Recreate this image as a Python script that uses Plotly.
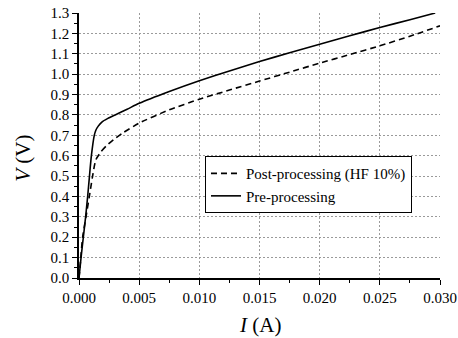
import plotly.graph_objects as go

# Current (A) / voltage (V) samples for the two I-V curves
i_pre = [0, 0.00017, 0.00036, 0.00055, 0.00072, 0.00087, 0.00103, 0.00127, 0.0014,
         0.0016, 0.0019, 0.0024, 0.003, 0.004, 0.005, 0.0075, 0.010, 0.0125, 0.015,
         0.0175, 0.020, 0.0225, 0.025, 0.0275, 0.0296]
v_pre = [0, 0.10, 0.20, 0.30, 0.40, 0.50, 0.60, 0.70, 0.725,
         0.745, 0.765, 0.783, 0.80, 0.828, 0.857, 0.915, 0.968, 1.016, 1.062,
         1.105, 1.147, 1.188, 1.229, 1.267, 1.30]

i_post = [0, 0.00015, 0.0003, 0.00058, 0.00086, 0.00113, 0.0014, 0.00183, 0.0023,
          0.0029, 0.0036, 0.005, 0.0075, 0.010, 0.0125, 0.015, 0.0175, 0.020,
          0.0225, 0.025, 0.0275, 0.030]
v_post = [0, 0.10, 0.20, 0.30, 0.40, 0.50, 0.58, 0.62, 0.65,
          0.68, 0.71, 0.76, 0.825, 0.877, 0.922, 0.966, 1.010, 1.054,
          1.096, 1.139, 1.186, 1.237]

FONT = "Liberation Serif, Times New Roman, serif"

fig = go.Figure()
fig.add_trace(go.Scatter(
    x=i_post, y=v_post, mode="lines", name="Post-processing (HF 10%)",
    line=dict(color="black", width=1.6, dash="6px,4px", shape="spline", smoothing=0.6),
))
fig.add_trace(go.Scatter(
    x=i_pre, y=v_pre, mode="lines", name="Pre-processing",
    line=dict(color="black", width=1.6, shape="spline", smoothing=0.6),
))

grid = dict(showgrid=True, gridcolor="#9a9a9a", gridwidth=1, griddash="2px,2px")
axis_common = dict(
    showline=True, linecolor="black", linewidth=1.5,
    ticks="outside", ticklen=5, tickwidth=1.2, tickcolor="black",
    zeroline=False, automargin=False,
    tickfont=dict(family=FONT, size=15, color="black"),
    **grid,
)

fig.update_xaxes(
    range=[0, 0.030], dtick=0.005, tick0=0, tickformat=".3f",
    minor=dict(dtick=0.0025, ticks="outside", ticklen=3, tickcolor="black", showgrid=False),
    **axis_common,
)
fig.update_yaxes(
    range=[0, 1.3], dtick=0.1, tick0=0, tickformat=".1f",
    minor=dict(dtick=0.05, ticks="outside", ticklen=3, tickcolor="black", showgrid=False),
    **axis_common,
)

# The frame is open on the top and right: mask the grid lines that fall on those edges
for edge in (dict(x0=0, x1=1, y0=1, y1=1), dict(x0=1, x1=1, y0=0, y1=1)):
    fig.add_shape(type="line", xref="paper", yref="paper", layer="between",
                  line=dict(color="white", width=2), **edge)

fig.add_annotation(
    text="<i>I</i> (A)", xref="paper", yref="paper", x=0.5, y=-0.124,
    xanchor="center", yanchor="top", showarrow=False,
    font=dict(family=FONT, size=21, color="black"),
)
fig.add_annotation(
    text="<i>V</i> (V)", xref="paper", yref="paper", x=-0.155, y=0.45,
    xanchor="center", yanchor="middle", textangle=-90, showarrow=False,
    font=dict(family=FONT, size=21, color="black"),
)

fig.update_layout(
    width=458, height=338,
    margin=dict(l=79, r=18, t=13, b=60),
    paper_bgcolor="white", plot_bgcolor="white",
    showlegend=True,
    legend=dict(
        x=0.349, y=0.46, xanchor="left", yanchor="top",
        bgcolor="white", bordercolor="black", borderwidth=1,
        font=dict(family=FONT, size=15, color="black"),
        tracegroupgap=0, itemwidth=30,
    ),
)

fig.write_html("out.html")
